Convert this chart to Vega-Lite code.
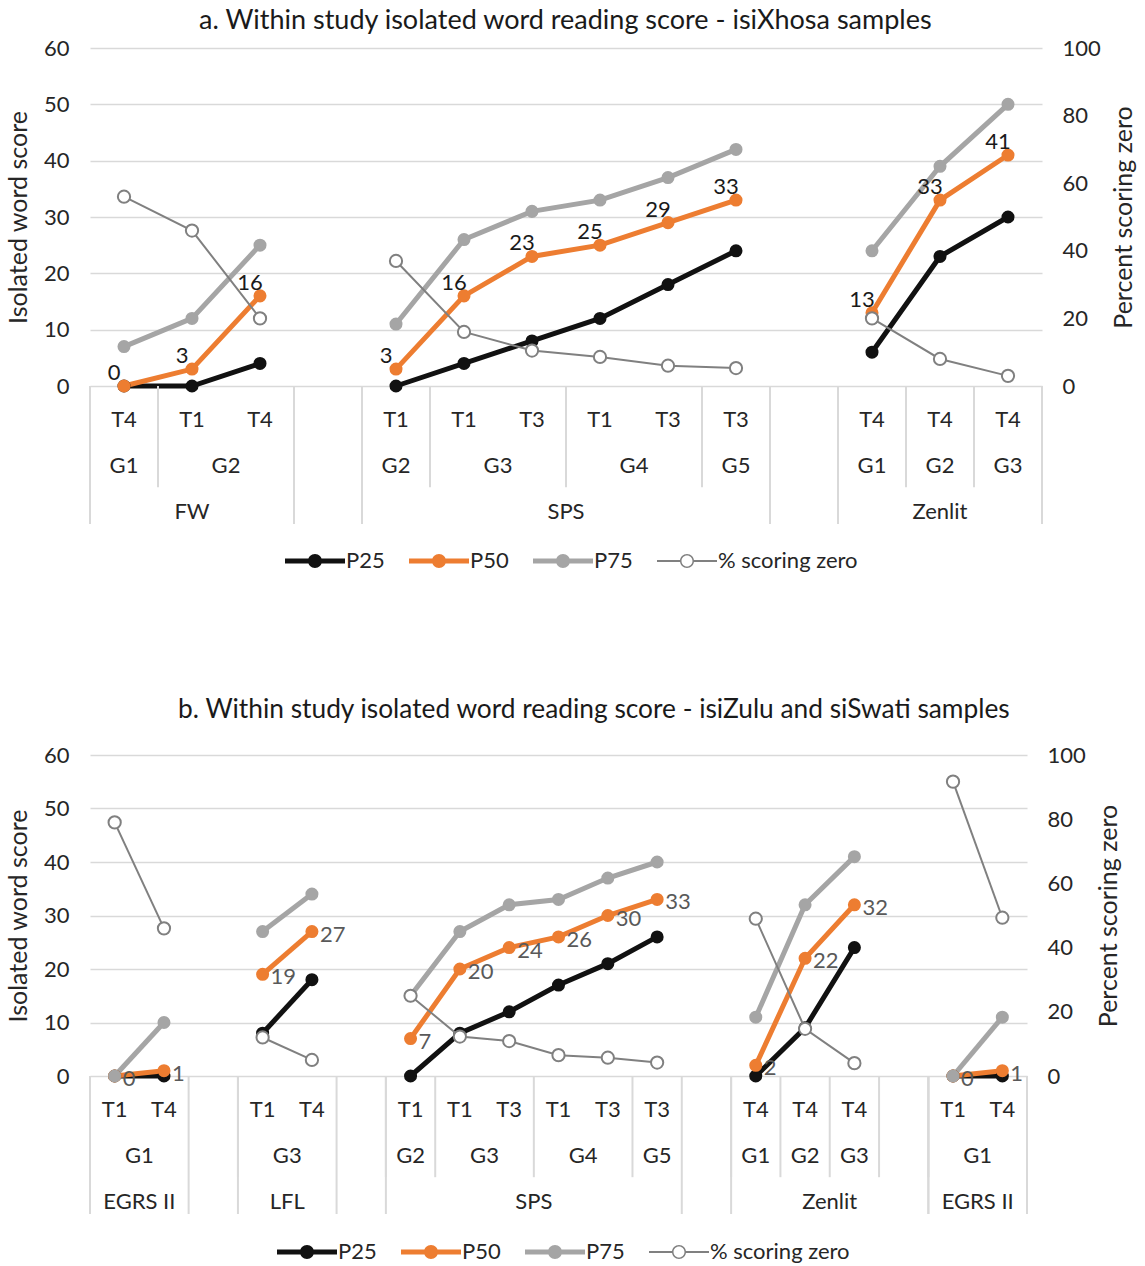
{
  "$schema": "https://vega.github.io/schema/vega-lite/v6.json",
  "padding": {"left": 6, "right": 2, "top": 7, "bottom": 2},
  "background": "white",
  "config": {
    "font": "Lato",
    "view": {"stroke": null},
    "axis": {"labelFont": "Lato", "labelFontSize": 22, "labelColor": "#262626", "titleFont": "Lato", "titleFontSize": 25, "titleFontWeight": "normal", "titleColor": "#262626", "domain": false, "ticks": false, "grid": false},
    "title": {"font": "Lato", "fontSize": 27, "fontWeight": "normal", "color": "#1a1a1a"},
    "legend": {"labelFont": "Lato", "labelFontSize": 22, "labelColor": "#262626", "layout": {"bottom": {"anchor": "middle"}}},
    "text": {"font": "Lato", "fontSize": 22}
  },
  "datasets": {
    "a": [
      {"slot": 0, "grp": 1, "study": "FW", "grade": "G1", "term": "T4", "P25": 0, "P50": 0, "P75": 7, "zero": 56},
      {"slot": 1, "grp": 1, "study": "FW", "grade": "G2", "term": "T1", "P25": 0, "P50": 3, "P75": 12, "zero": 46},
      {"slot": 2, "grp": 1, "study": "FW", "grade": "G2", "term": "T4", "P25": 4, "P50": 16, "P75": 25, "zero": 20},
      {"slot": 4, "grp": 2, "study": "SPS", "grade": "G2", "term": "T1", "P25": 0, "P50": 3, "P75": 11, "zero": 37},
      {"slot": 5, "grp": 2, "study": "SPS", "grade": "G3", "term": "T1", "P25": 4, "P50": 16, "P75": 26, "zero": 16},
      {"slot": 6, "grp": 2, "study": "SPS", "grade": "G3", "term": "T3", "P25": 8, "P50": 23, "P75": 31, "zero": 10.5},
      {"slot": 7, "grp": 2, "study": "SPS", "grade": "G4", "term": "T1", "P25": 12, "P50": 25, "P75": 33, "zero": 8.6},
      {"slot": 8, "grp": 2, "study": "SPS", "grade": "G4", "term": "T3", "P25": 18, "P50": 29, "P75": 37, "zero": 6},
      {"slot": 9, "grp": 2, "study": "SPS", "grade": "G5", "term": "T3", "P25": 24, "P50": 33, "P75": 42, "zero": 5.3},
      {"slot": 11, "grp": 3, "study": "Zenlit", "grade": "G1", "term": "T4", "P25": 6, "P50": 13, "P75": 24, "zero": 20},
      {"slot": 12, "grp": 3, "study": "Zenlit", "grade": "G2", "term": "T4", "P25": 23, "P50": 33, "P75": 39, "zero": 8},
      {"slot": 13, "grp": 3, "study": "Zenlit", "grade": "G3", "term": "T4", "P25": 30, "P50": 41, "P75": 50, "zero": 3}
    ],
    "b": [
      {"slot": 0, "grp": 1, "study": "EGRS II", "grade": "G1", "term": "T1", "P25": 0, "P50": 0, "P75": 0, "zero": 79},
      {"slot": 1, "grp": 1, "study": "EGRS II", "grade": "G1", "term": "T4", "P25": 0, "P50": 1, "P75": 10, "zero": 46},
      {"slot": 3, "grp": 2, "study": "LFL", "grade": "G3", "term": "T1", "P25": 8, "P50": 19, "P75": 27, "zero": 12},
      {"slot": 4, "grp": 2, "study": "LFL", "grade": "G3", "term": "T4", "P25": 18, "P50": 27, "P75": 34, "zero": 5},
      {"slot": 6, "grp": 3, "study": "SPS", "grade": "G2", "term": "T1", "P25": 0, "P50": 7, "P75": 15, "zero": 25},
      {"slot": 7, "grp": 3, "study": "SPS", "grade": "G3", "term": "T1", "P25": 8, "P50": 20, "P75": 27, "zero": 12.3},
      {"slot": 8, "grp": 3, "study": "SPS", "grade": "G3", "term": "T3", "P25": 12, "P50": 24, "P75": 32, "zero": 10.9},
      {"slot": 9, "grp": 3, "study": "SPS", "grade": "G4", "term": "T1", "P25": 17, "P50": 26, "P75": 33, "zero": 6.5},
      {"slot": 10, "grp": 3, "study": "SPS", "grade": "G4", "term": "T3", "P25": 21, "P50": 30, "P75": 37, "zero": 5.7},
      {"slot": 11, "grp": 3, "study": "SPS", "grade": "G5", "term": "T3", "P25": 26, "P50": 33, "P75": 40, "zero": 4.2},
      {"slot": 13, "grp": 4, "study": "Zenlit", "grade": "G1", "term": "T4", "P25": 0, "P50": 2, "P75": 11, "zero": 49},
      {"slot": 14, "grp": 4, "study": "Zenlit", "grade": "G2", "term": "T4", "P25": 9, "P50": 22, "P75": 32, "zero": 14.7},
      {"slot": 15, "grp": 4, "study": "Zenlit", "grade": "G3", "term": "T4", "P25": 24, "P50": 32, "P75": 41, "zero": 4},
      {"slot": 16, "grp": 4, "study": "Zenlit", "grade": "", "term": "", "P25": null, "P50": null, "P75": null, "zero": null},
      {"slot": 17, "grp": 5, "study": "EGRS II", "grade": "G1", "term": "T1", "P25": 0, "P50": 0, "P75": 0, "zero": 91.7},
      {"slot": 18, "grp": 5, "study": "EGRS II", "grade": "G1", "term": "T4", "P25": 0, "P50": 1, "P75": 11, "zero": 49.3}
    ]
  },
  "spacing": 124,
  "resolve": {"scale": {"color": "independent"}, "legend": {"color": "independent"}},
  "vconcat": [
    {
      "data": {"name": "a"},
      "title": {"text": "a. Within study isolated word reading score - isiXhosa samples", "anchor": "middle", "offset": 2, "dx": -6, "fontSize": 27},
      "spacing": 0,
      "bounds": "flush",
      "vconcat": [
        {
          "width": 952, "height": 338,
          "layer": [
            {
              "transform": [{"fold": ["P25", "P50", "P75"], "as": ["series", "value"]}],
              "mark": {"type": "line", "strokeWidth": 5, "point": {"filled": true, "size": 170}},
              "encoding": {
                "x": {"field": "slot", "type": "quantitative", "scale": {"domain": [-0.5, 13.5], "nice": false, "zero": false}, "axis": null},
                "y": {"field": "value", "type": "quantitative", "scale": {"domain": [0, 60], "nice": false}, "axis": {"title": "Isolated word score", "values": [0, 10, 20, 30, 40, 50, 60], "grid": true, "gridColor": "#D9D9D9", "gridWidth": 1.5, "labelPadding": 21, "titlePadding": 12}},
                "color": {"field": "series", "type": "nominal", "scale": {"domain": ["P25", "P50", "P75", "% scoring zero"], "range": ["#111111", "#ED7D31", "#A5A5A5", "#808080"]},
                  "legend": {"title": null, "orient": "bottom", "direction": "horizontal", "symbolSize": 576, "symbolStrokeWidth": 0, "symbolOffset": 18, "columnPadding": 24, "labelOffset": 19, "offset": 24,
                    "encode": {"symbols": {"update": {
                      "shape": {"signal": "datum.value === '% scoring zero' ? 'M-2.5,-0.083H-0.5V0.083H-2.5Z M0.5,-0.083H2.5V0.083H0.5Z M0.583,0A0.583,0.583 0 1 1 -0.583,0A0.583,0.583 0 1 1 0.583,0Z M0.458,0A0.458,0.458 0 1 0 -0.458,0A0.458,0.458 0 1 0 0.458,0Z' : 'M-2.5,-0.208H2.5V0.208H-2.5Z M0.583,0A0.583,0.583 0 1 1 -0.583,0A0.583,0.583 0 1 1 0.583,0Z'"},
                      "fill": {"signal": "datum.value === 'P25' ? '#111111' : datum.value === 'P50' ? '#ED7D31' : datum.value === 'P75' ? '#A5A5A5' : '#808080'"},
                      "opacity": {"value": 1}, "fillOpacity": {"value": 1}}}}}},
                "detail": {"field": "grp"}
              }
            },
            {
              "mark": {"type": "line", "strokeWidth": 2, "point": {"filled": false, "fill": "white", "size": 150, "strokeWidth": 2}},
              "encoding": {
                "x": {"field": "slot", "type": "quantitative", "scale": {"domain": [-0.5, 13.5], "nice": false, "zero": false}, "axis": null},
                "y": {"field": "zero", "type": "quantitative", "scale": {"domain": [0, 100], "nice": false}, "axis": {"orient": "right", "title": "Percent scoring zero", "values": [0, 20, 40, 60, 80, 100], "labelPadding": 20, "titlePadding": 11, "titleAngle": 270, "titleBaseline": "top"}},
                "color": {"datum": "% scoring zero", "legend": {"title": null}},
                "detail": {"field": "grp"}
              }
            },
            {
              "transform": [{"filter": "datum.P50 != null"}],
              "mark": {"type": "text", "dx": -10, "dy": -13, "color": "#1a1a1a", "fontSize": 22},
              "encoding": {
                "x": {"field": "slot", "type": "quantitative", "scale": {"domain": [-0.5, 13.5], "nice": false, "zero": false}, "axis": null},
                "y": {"field": "P50", "type": "quantitative", "scale": {"domain": [0, 60], "nice": false}, "axis": null},
                "text": {"field": "P50", "type": "quantitative"}
              }
            }
          ],
          "resolve": {"scale": {"y": "independent"}}
        },
        {
          "width": 952, "height": 138,
          "layer": [
            {
              "mark": {"type": "text", "dy": 11, "fontSize": 22, "color": "#262626"},
              "encoding": {
                "x": {"field": "slot", "type": "quantitative", "scale": {"domain": [-0.5, 13.5], "nice": false, "zero": false}, "axis": null},
                "y": {"datum": 0.5, "type": "quantitative", "scale": {"domain": [0, 3], "reverse": true, "nice": false}, "axis": null},
                "text": {"field": "term"}
              }
            },
            {
              "transform": [{"aggregate": [{"op": "mean", "field": "slot", "as": "mid"}], "groupby": ["grp", "grade"]}],
              "mark": {"type": "text", "dy": 11, "fontSize": 22, "color": "#262626"},
              "encoding": {
                "x": {"field": "mid", "type": "quantitative", "scale": {"domain": [-0.5, 13.5], "nice": false, "zero": false}, "axis": null},
                "y": {"datum": 1.5, "type": "quantitative"},
                "text": {"field": "grade"}
              }
            },
            {
              "transform": [{"aggregate": [{"op": "mean", "field": "slot", "as": "mid"}], "groupby": ["grp", "study"]}],
              "mark": {"type": "text", "dy": 11, "fontSize": 22, "color": "#262626"},
              "encoding": {
                "x": {"field": "mid", "type": "quantitative", "scale": {"domain": [-0.5, 13.5], "nice": false, "zero": false}, "axis": null},
                "y": {"datum": 2.5, "type": "quantitative"},
                "text": {"field": "study"}
              }
            },
            {
              "transform": [{"aggregate": [{"op": "min", "field": "slot", "as": "first"}], "groupby": ["grp", "grade"]}],
              "mark": {"type": "rule", "color": "#D9D9D9", "strokeWidth": 2},
              "encoding": {
                "x": {"field": "first", "type": "ordinal", "bandPosition": 0, "scale": {"type": "band", "domain": [0,1,2,3,4,5,6,7,8,9,10,11,12,13], "paddingInner": 0, "paddingOuter": 0}, "axis": null},
                "y": {"datum": 0, "type": "quantitative"},
                "y2": {"datum": 2.2}
              }
            },
            {
              "transform": [{"aggregate": [{"op": "min", "field": "slot", "as": "first"}], "groupby": ["grp"]}],
              "mark": {"type": "rule", "color": "#D9D9D9", "strokeWidth": 2},
              "encoding": {
                "x": {"field": "first", "type": "ordinal", "bandPosition": 0, "scale": {"type": "band", "domain": [0,1,2,3,4,5,6,7,8,9,10,11,12,13], "paddingInner": 0, "paddingOuter": 0}, "axis": null}
              }
            },
            {
              "transform": [{"aggregate": [{"op": "max", "field": "slot", "as": "last"}], "groupby": ["grp"]}],
              "mark": {"type": "rule", "color": "#D9D9D9", "strokeWidth": 2},
              "encoding": {
                "x": {"field": "last", "type": "ordinal", "bandPosition": 1, "scale": {"type": "band", "domain": [0,1,2,3,4,5,6,7,8,9,10,11,12,13], "paddingInner": 0, "paddingOuter": 0}, "axis": null}
              }
            }
          ],
          "resolve": {"scale": {"x": "independent"}}
        }
      ]
    },
    {
      "data": {"name": "b"},
      "title": {"text": "b. Within study isolated word reading score - isiZulu and siSwati samples", "anchor": "middle", "offset": 21, "dx": 30, "fontSize": 26.3},
      "spacing": 0,
      "bounds": "flush",
      "vconcat": [
        {
          "width": 937, "height": 321,
          "layer": [
            {
              "transform": [{"fold": ["P25", "P50", "P75"], "as": ["series", "value"]}],
              "mark": {"type": "line", "strokeWidth": 5, "point": {"filled": true, "size": 170}},
              "encoding": {
                "x": {"field": "slot", "type": "quantitative", "scale": {"domain": [-0.5, 18.5], "nice": false, "zero": false}, "axis": null},
                "y": {"field": "value", "type": "quantitative", "scale": {"domain": [0, 60], "nice": false}, "axis": {"title": "Isolated word score", "values": [0, 10, 20, 30, 40, 50, 60], "grid": true, "gridColor": "#D9D9D9", "gridWidth": 1.5, "labelPadding": 21, "titlePadding": 12}},
                "color": {"field": "series", "type": "nominal", "scale": {"domain": ["P25", "P50", "P75", "% scoring zero"], "range": ["#111111", "#ED7D31", "#A5A5A5", "#808080"]},
                  "legend": {"title": null, "orient": "bottom", "direction": "horizontal", "symbolSize": 576, "symbolStrokeWidth": 0, "symbolOffset": 18, "columnPadding": 24, "labelOffset": 19, "offset": 25,
                    "encode": {"symbols": {"update": {
                      "shape": {"signal": "datum.value === '% scoring zero' ? 'M-2.5,-0.083H-0.5V0.083H-2.5Z M0.5,-0.083H2.5V0.083H0.5Z M0.583,0A0.583,0.583 0 1 1 -0.583,0A0.583,0.583 0 1 1 0.583,0Z M0.458,0A0.458,0.458 0 1 0 -0.458,0A0.458,0.458 0 1 0 0.458,0Z' : 'M-2.5,-0.208H2.5V0.208H-2.5Z M0.583,0A0.583,0.583 0 1 1 -0.583,0A0.583,0.583 0 1 1 0.583,0Z'"},
                      "fill": {"signal": "datum.value === 'P25' ? '#111111' : datum.value === 'P50' ? '#ED7D31' : datum.value === 'P75' ? '#A5A5A5' : '#808080'"},
                      "opacity": {"value": 1}, "fillOpacity": {"value": 1}}}}}},
                "detail": {"field": "grp"}
              }
            },
            {
              "mark": {"type": "line", "strokeWidth": 2, "point": {"filled": false, "fill": "white", "size": 150, "strokeWidth": 2}},
              "encoding": {
                "x": {"field": "slot", "type": "quantitative", "scale": {"domain": [-0.5, 18.5], "nice": false, "zero": false}, "axis": null},
                "y": {"field": "zero", "type": "quantitative", "scale": {"domain": [0, 100], "nice": false}, "axis": {"orient": "right", "title": "Percent scoring zero", "values": [0, 20, 40, 60, 80, 100], "labelPadding": 20, "titlePadding": 11, "titleAngle": 270, "titleBaseline": "top"}},
                "color": {"datum": "% scoring zero", "legend": {"title": null}},
                "detail": {"field": "grp"}
              }
            },
            {
              "transform": [{"filter": "datum.P50 != null"}],
              "mark": {"type": "text", "align": "left", "dx": 8, "dy": 3, "color": "#595959", "fontSize": 22},
              "encoding": {
                "x": {"field": "slot", "type": "quantitative", "scale": {"domain": [-0.5, 18.5], "nice": false, "zero": false}, "axis": null},
                "y": {"field": "P50", "type": "quantitative", "scale": {"domain": [0, 60], "nice": false}, "axis": null},
                "text": {"field": "P50", "type": "quantitative"}
              }
            }
          ],
          "resolve": {"scale": {"y": "independent"}}
        },
        {
          "width": 937, "height": 138,
          "layer": [
            {
              "mark": {"type": "text", "dy": 11, "fontSize": 22, "color": "#262626"},
              "encoding": {
                "x": {"field": "slot", "type": "quantitative", "scale": {"domain": [-0.5, 18.5], "nice": false, "zero": false}, "axis": null},
                "y": {"datum": 0.5, "type": "quantitative", "scale": {"domain": [0, 3], "reverse": true, "nice": false}, "axis": null},
                "text": {"field": "term"}
              }
            },
            {
              "transform": [{"aggregate": [{"op": "mean", "field": "slot", "as": "mid"}], "groupby": ["grp", "grade"]}],
              "mark": {"type": "text", "dy": 11, "fontSize": 22, "color": "#262626"},
              "encoding": {
                "x": {"field": "mid", "type": "quantitative", "scale": {"domain": [-0.5, 18.5], "nice": false, "zero": false}, "axis": null},
                "y": {"datum": 1.5, "type": "quantitative"},
                "text": {"field": "grade"}
              }
            },
            {
              "transform": [{"aggregate": [{"op": "mean", "field": "slot", "as": "mid"}], "groupby": ["grp", "study"]}],
              "mark": {"type": "text", "dy": 11, "fontSize": 22, "color": "#262626"},
              "encoding": {
                "x": {"field": "mid", "type": "quantitative", "scale": {"domain": [-0.5, 18.5], "nice": false, "zero": false}, "axis": null},
                "y": {"datum": 2.5, "type": "quantitative"},
                "text": {"field": "study"}
              }
            },
            {
              "transform": [{"aggregate": [{"op": "min", "field": "slot", "as": "first"}], "groupby": ["grp", "grade"]}],
              "mark": {"type": "rule", "color": "#D9D9D9", "strokeWidth": 2},
              "encoding": {
                "x": {"field": "first", "type": "ordinal", "bandPosition": 0, "scale": {"type": "band", "domain": [0,1,2,3,4,5,6,7,8,9,10,11,12,13,14,15,16,17,18], "paddingInner": 0, "paddingOuter": 0}, "axis": null},
                "y": {"datum": 0, "type": "quantitative"},
                "y2": {"datum": 2.2}
              }
            },
            {
              "transform": [{"aggregate": [{"op": "min", "field": "slot", "as": "first"}], "groupby": ["grp"]}],
              "mark": {"type": "rule", "color": "#D9D9D9", "strokeWidth": 2},
              "encoding": {
                "x": {"field": "first", "type": "ordinal", "bandPosition": 0, "scale": {"type": "band", "domain": [0,1,2,3,4,5,6,7,8,9,10,11,12,13,14,15,16,17,18], "paddingInner": 0, "paddingOuter": 0}, "axis": null}
              }
            },
            {
              "transform": [{"aggregate": [{"op": "max", "field": "slot", "as": "last"}], "groupby": ["grp"]}],
              "mark": {"type": "rule", "color": "#D9D9D9", "strokeWidth": 2},
              "encoding": {
                "x": {"field": "last", "type": "ordinal", "bandPosition": 1, "scale": {"type": "band", "domain": [0,1,2,3,4,5,6,7,8,9,10,11,12,13,14,15,16,17,18], "paddingInner": 0, "paddingOuter": 0}, "axis": null}
              }
            }
          ],
          "resolve": {"scale": {"x": "independent"}}
        }
      ]
    }
  ]
}
